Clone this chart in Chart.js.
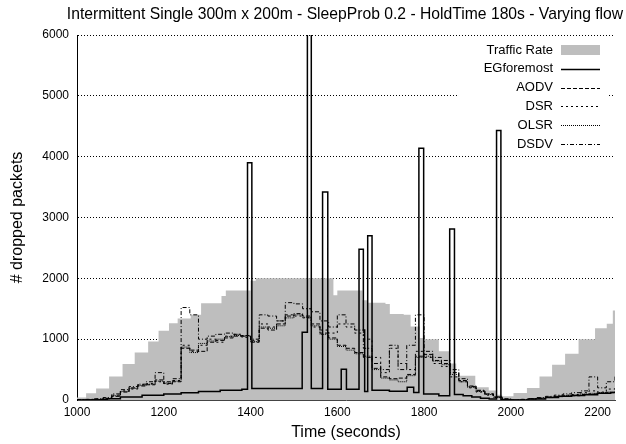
<!DOCTYPE html>
<html>
<head>
<meta charset="utf-8">
<script src="https://cdn.jsdelivr.net/npm/chart.js@4.4.0/dist/chart.umd.min.js"></script>
<style>
  html, body { margin: 0; padding: 0; background: #fff; }
  canvas { display: block; }
</style>
</head>
<body>
<canvas id="chart" width="626" height="444"></canvas>
<script>
// tick labels
const xTicks = [1000, 1200, 1400, 1600, 1800, 2000, 2200];
const yTicks = [0, 1000, 2000, 3000, 4000, 5000, 6000];

// traffic rate (grey steps): value holds from its time until the next one
const trafficTimes = [1000, 1021, 1044, 1074, 1105, 1133, 1164, 1188, 1212, 1232, 1262, 1286, 1333, 1343, 1400, 1412,
  1591, 1600, 1658, 1669, 1711, 1721, 1753, 1769, 1790, 1799, 1834, 1859, 1874, 1918, 1949, 1968, 1980,
  2006, 2037, 2066, 2095, 2125, 2156, 2194, 2221, 2235, 2240];
const trafficValues = [40, 110, 190, 385, 590, 780, 960, 1140, 1260, 1340, 1400, 1590, 1710, 1800, 1960, 2000,
  1720, 1800, 1640, 1600, 1580, 1415, 1400, 1210, 1020, 1000, 800, 600, 400, 210, 155, 88, 60,
  115, 197, 387, 580, 760, 1000, 1180, 1252, 1470, 1470];

// EGforemost (solid line with spikes)
const egTimes = [1000, 1040, 1070, 1100, 1150, 1200, 1240, 1280, 1330, 1380, 1393, 1403, 1519, 1531, 1540,
  1566, 1578, 1609, 1621, 1650, 1660, 1663, 1670, 1680, 1720, 1761, 1776, 1788, 1799, 1834, 1859, 1870,
  1890, 1910, 1930, 1950, 1967, 1977, 2000, 2040, 2080, 2110, 2140, 2170, 2200, 2230, 2240];
const egValues = [0, 5, 20, 50, 80, 100, 120, 140, 160, 175, 3900, 190, 1115, 6800, 190,
  3420, 175, 505, 175, 2480, 1150, 140, 2700, 160, 145, 210, 125, 4140, 100, 70, 2810, 90,
  70, 50, 30, 15, 4430, 5, 0, 15, 40, 60, 75, 85, 110, 125, 125];

// the four other protocols share one time grid
const protoTimes = [1000, 1020, 1040, 1060, 1080, 1100, 1120, 1140, 1160, 1180, 1200, 1220, 1240, 1260, 1280,
  1300, 1320, 1340, 1360, 1380, 1400, 1420, 1440, 1460, 1480, 1500, 1520, 1540, 1560, 1580, 1600, 1620,
  1640, 1660, 1680, 1700, 1720, 1740, 1760, 1780, 1800, 1820, 1840, 1860, 1880, 1900, 1920, 1940, 1960,
  1980, 2000, 2020, 2040, 2060, 2080, 2100, 2120, 2140, 2160, 2180, 2200, 2220, 2240];
const aodv = [5, 5, 10, 20, 60, 130, 200, 230, 250, 330, 270, 300, 850, 820, 800,
  950, 980, 1020, 1050, 1060, 950, 1180, 1150, 1250, 1380, 1420, 1380, 1250, 1100, 1020, 900, 850,
  780, 700, 520, 380, 350, 360, 420, 720, 750, 650, 600, 450, 320, 230, 150, 100, 50,
  15, 0, 5, 15, 25, 40, 55, 60, 70, 90, 100, 110, 120, 130];
const dsr = [5, 10, 15, 30, 80, 150, 180, 250, 270, 300, 260, 320, 900, 800, 900,
  1000, 950, 1050, 1080, 1030, 980, 1250, 1200, 1300, 1400, 1380, 1350, 1200, 1150, 1100, 1250, 1200,
  1100, 1000, 700, 450, 850, 600, 500, 800, 700, 600, 550, 380, 300, 200, 130, 80, 40,
  10, 0, 10, 20, 30, 50, 60, 80, 90, 120, 150, 130, 180, 200];
const olsr = [0, 5, 10, 25, 70, 140, 190, 240, 260, 310, 280, 310, 870, 780, 930,
  970, 1000, 1040, 1060, 1050, 960, 1200, 1180, 1220, 1350, 1400, 1360, 1220, 1080, 1000, 880, 820,
  760, 720, 500, 360, 330, 300, 400, 700, 720, 640, 580, 420, 300, 210, 140, 90, 45,
  10, 0, 8, 20, 30, 45, 60, 70, 80, 100, 110, 120, 130, 140];
const dsdv = [5, 10, 20, 40, 100, 170, 220, 260, 300, 450, 300, 350, 1520, 1400, 1000,
  1050, 1080, 1100, 1080, 1050, 1000, 1400, 1380, 1300, 1600, 1580, 1500, 1450, 1300, 1200, 1400, 1250,
  1150, 850, 600, 500, 900, 500, 900, 1400, 800, 700, 650, 500, 350, 220, 160, 100, 50,
  20, 0, 10, 20, 40, 60, 80, 100, 120, 150, 380, 200, 300, 400];

const FONT = "'Liberation Sans', Arial, Helvetica, sans-serif";

function pts(xs, ys) {
  return xs.map((x, i) => ({ x: x, y: ys[i] }));
}

const legendItems = [
  { label: 'Traffic Rate', box: true },
  { label: 'EGforemost', dash: [], width: 1.5 },
  { label: 'AODV', dash: [4, 2], width: 1 },
  { label: 'DSR', dash: [2, 3], width: 1 },
  { label: 'OLSR', dash: [1, 1], width: 1 },
  { label: 'DSDV', dash: [4, 2, 1, 2], width: 1 }
];

const gnuLegend = {
  id: 'gnuLegend',
  beforeDatasetsDraw(chart) {
    const ctx = chart.ctx;
    ctx.save();
    ctx.fillStyle = '#fff';
    ctx.fillRect(459, 40, 149, 112);
    ctx.restore();
  },
  afterDatasetsDraw(chart) {
    const ctx = chart.ctx;
    ctx.save();
    ctx.font = '13px ' + FONT;
    ctx.textAlign = 'right';
    ctx.textBaseline = 'middle';
    legendItems.forEach((it, i) => {
      const y = 50 + i * 18.8;
      ctx.fillStyle = '#000';
      ctx.fillText(it.label, 553, y);
      if (it.box) {
        ctx.fillStyle = '#bebebe';
        ctx.fillRect(561, y - 5, 39, 10);
      } else {
        ctx.strokeStyle = '#000';
        ctx.lineWidth = it.width;
        ctx.setLineDash(it.dash);
        ctx.beginPath();
        ctx.moveTo(561, Math.round(y) + 0.5);
        ctx.lineTo(600, Math.round(y) + 0.5);
        ctx.stroke();
      }
    });
    ctx.restore();
  },
  afterDraw(chart) {
    const ctx = chart.ctx;
    ctx.save();
    ctx.font = '15.7px ' + FONT;
    ctx.fillStyle = '#000';
    ctx.textAlign = 'center';
    ctx.textBaseline = 'middle';
    ctx.fillText('Intermittent Single 300m x 200m - SleepProb 0.2 - HoldTime 180s - Varying flow', 345, 15);
    ctx.restore();
  }
};

function line(label, xs, ys, dash, width, order) {
  return {
    label: label,
    data: pts(xs, ys),
    stepped: true,
    borderColor: '#000',
    borderWidth: width,
    borderDash: dash,
    pointRadius: 0,
    fill: false,
    order: order
  };
}

new Chart(document.getElementById('chart'), {
  type: 'line',
  data: {
    datasets: [
      line('EGforemost', egTimes, egValues, [], 1.5, 1),
      line('AODV', protoTimes, aodv, [4, 2], 1, 2),
      line('DSR', protoTimes, dsr, [2, 3], 1, 3),
      line('OLSR', protoTimes, olsr, [1, 1], 1, 4),
      line('DSDV', protoTimes, dsdv, [4, 2, 1, 2], 1, 5),
      {
        label: 'Traffic Rate',
        data: pts(trafficTimes, trafficValues),
        stepped: true,
        borderWidth: 0,
        borderColor: 'rgba(0,0,0,0)',
        backgroundColor: '#bebebe',
        pointRadius: 0,
        fill: 'origin',
        order: 10
      }
    ]
  },
  options: {
    responsive: false,
    animation: false,
    devicePixelRatio: 1,
    layout: { padding: { top: 35, right: 11, left: 0, bottom: 0 } },
    plugins: {
      legend: { display: false },
      title: { display: false },
      tooltip: { enabled: false }
    },
    scales: {
      x: {
        type: 'linear',
        min: 1000,
        max: 2240,
        z: 1,
        afterFit(scale) { scale.height = 44; },
        afterBuildTicks(scale) { scale.ticks = xTicks.map(v => ({ value: v })); },
        ticks: {
          autoSkip: false,
          padding: 5,
          color: '#000',
          font: { family: FONT, size: 12 },
          maxRotation: 0,
          callback: v => String(v)
        },
        grid: { display: false, drawTicks: false },
        border: { display: true, color: '#444', width: 1 },
        title: {
          display: true,
          text: 'Time (seconds)',
          color: '#000',
          font: { family: FONT, size: 16 },
          padding: 2
        }
      },
      y: {
        min: 0,
        max: 6000,
        afterFit(scale) { scale.width = 77; },
        afterBuildTicks(scale) { scale.ticks = yTicks.map(v => ({ value: v })); },
        ticks: {
          autoSkip: false,
          padding: 8,
          color: '#000',
          font: { family: FONT, size: 12 },
          callback: v => String(v)
        },
        grid: { color: '#000', lineWidth: 1, drawTicks: false },
        border: { display: true, color: '#000', width: 1, dash: [1, 2] },
        title: {
          display: true,
          text: '# dropped packets',
          color: '#000',
          font: { family: FONT, size: 16 },
          padding: 8
        }
      }
    }
  },
  plugins: [gnuLegend]
});
</script>
</body>
</html>
